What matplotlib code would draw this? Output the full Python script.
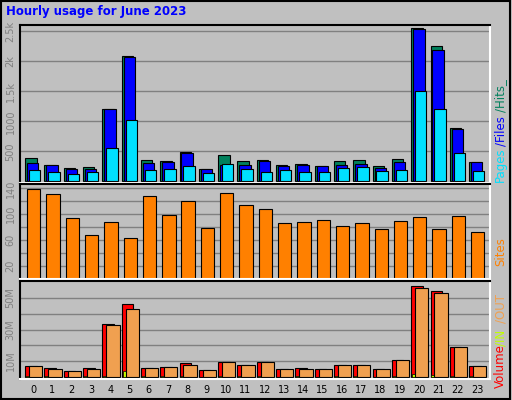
import numpy as np
import matplotlib.pyplot as plt

hours = list(range(24))
hits = [383, 278, 217, 233, 1200, 2083, 350, 333, 494, 211, 433, 333, 350, 267, 283, 250, 333, 350, 250, 367, 2550, 2250, 883, 317]
files = [311, 267, 200, 211, 1200, 2067, 311, 317, 467, 200, 278, 267, 333, 250, 267, 250, 267, 283, 217, 317, 2533, 2183, 867, 317]
pages = [194, 150, 117, 161, 550, 1017, 183, 200, 250, 133, 283, 200, 150, 183, 150, 150, 217, 233, 167, 183, 1500, 1200, 467, 167]
sites = [139, 131, 94, 67, 88, 63, 128, 98, 120, 78, 133, 114, 108, 86, 88, 91, 81, 86, 77, 89, 95, 77, 97, 72]
volume = [6.6, 5.3, 3.4, 5.3, 33.2, 45.9, 5.3, 5.9, 8.5, 4.0, 9.7, 7.2, 9.1, 4.7, 5.3, 4.7, 7.8, 7.8, 4.7, 10.4, 57.4, 54.2, 18.6, 6.6]
vol_out = [6.6, 4.7, 3.4, 4.7, 32.6, 42.8, 5.3, 5.9, 7.8, 4.0, 9.1, 7.2, 9.1, 4.7, 4.7, 4.7, 7.8, 7.8, 4.7, 10.4, 56.1, 52.9, 18.6, 6.6]
vol_in = [0.2, 0.2, 0.1, 0.2, 0.3, 3.4, 0.2, 0.2, 0.2, 0.1, 0.3, 0.2, 0.2, 0.1, 0.2, 0.1, 0.2, 0.2, 0.1, 0.3, 1.5, 1.0, 0.3, 0.2]

bg = '#C0C0C0'
grey = '#808080'
x = np.array(hours)

fig = plt.figure(figsize=(5.12, 4), dpi=100, facecolor=bg)
ax1 = fig.add_axes([0.040, 0.5425, 0.917, 0.395])
ax2 = fig.add_axes([0.040, 0.3025, 0.917, 0.2375])
ax3 = fig.add_axes([0.040, 0.0525, 0.917, 0.245])

for ax in (ax1, ax2, ax3):
    ax.set_facecolor(bg)
    ax.set_xlim(-0.65, 23.67)
    ax.set_axisbelow(True)
    ax.grid(axis='y', color=grey, lw=1)
    ax.tick_params(length=0, labelsize=7, labelcolor=grey)
    for side_name, s in ax.spines.items():
        s.set_color('black' if side_name in ('top', 'left') else 'white')
        s.set_linewidth(1.5)

# top panel: hits / files / pages
ax1.bar(x - 0.41, hits, width=0.59, align='edge', color='#00805C', edgecolor='black', lw=0.8)
ax1.bar(x - 0.31, files, width=0.59, align='edge', color='#0000FF', edgecolor='black', lw=0.8)
ax1.bar(x - 0.21, pages, width=0.59, align='edge', color='#00E0FF', edgecolor='black', lw=0.8)
ax1.set_ylim(-28, 2605)
ax1.set_yticks([500, 1000, 1500, 2000, 2500], ['500', '1000', '1.5k', '2k', '2.5k'], rotation=90, va='center')
ax1.set_xticks([])

# sites
ax2.bar(x - 0.31, sites, width=0.69, align='edge', color='#FF8000', edgecolor='black', lw=0.8)
ax2.set_ylim(-0.6, 146.7)
ax2.set_yticks(range(20, 141, 20), ['20', '', '60', '', '100', '', '140'], rotation=90, va='center')
ax2.set_xticks([])

# volume
ax3.bar(x - 0.41, volume, width=0.6, align='edge', color='#FF0000', edgecolor='black', lw=0.8)
ax3.bar(x - 0.36, vol_in, width=0.2, align='edge', color='#C0FF00', edgecolor='black', lw=0.5)
ax3.bar(x - 0.21, vol_out, width=0.69, align='edge', color='#F0A050', edgecolor='black', lw=0.8)
ax3.set_ylim(-1.4, 60.8)
ax3.set_yticks(range(10, 60, 10), ['10M', '', '30M', '', '50M'], rotation=90, va='center')
ax3.set_xticks(hours, [str(h) for h in hours])
ax3.tick_params(axis='x', labelcolor='black', labelsize=7, pad=4)

fig.text(0.012, 0.962, 'Hourly usage for June 2023', color='#0000FF', fontsize=8.5, fontweight='bold')

def side(parts, y0):
    y = y0
    for txt, col, h in parts:
        fig.text(0.965, y, txt, color=col, rotation=90, fontsize=8.5, ha='left', va='bottom')
        y += h

side([('Pages', '#00E0FF', 0.09), ('/Files', '#0000FF', 0.085), ('/Hits_', '#00805C', 0.07)], 0.545)
side([('Sites', '#FF8000', 0.07)], 0.335)
side([('Volume', '#FF0000', 0.105), ('/IN', '#C0FF00', 0.058), ('/OUT', '#F0A050', 0.07)], 0.03)

fig.add_artist(plt.Rectangle((0.002, 0.003), 0.994, 0.994, transform=fig.transFigure,
                             fill=False, edgecolor='black', lw=1.5))

fig.savefig('out.png', dpi=100, facecolor=bg)
